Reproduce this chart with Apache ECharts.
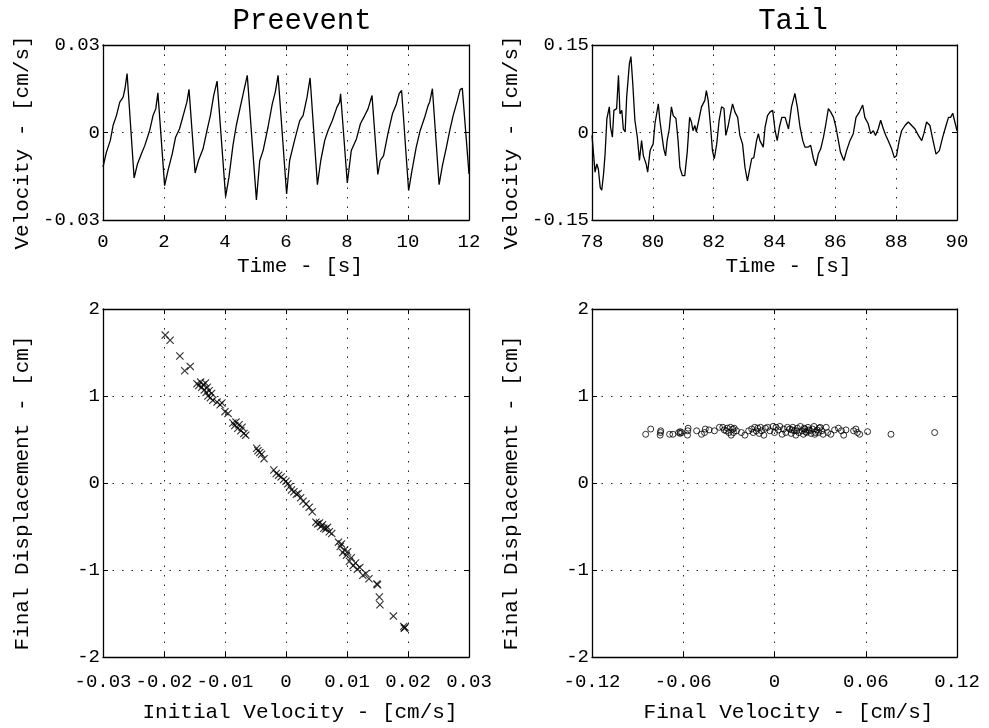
<!DOCTYPE html>
<html>
<head>
<meta charset="utf-8">
<title>Preevent / Tail</title>
<script src="https://cdn.jsdelivr.net/npm/echarts@6/dist/echarts.min.js"></script>
<style>
    html, body { margin: 0; padding: 0; background: #fff; }
    #chart { width: 989px; height: 728px; }
</style>
</head>
<body>
<div id="chart"></div>
<script>
// velocity traces, [time (s), velocity (cm/s)]
let preeventTrace = [
    [0, -0.0119], [0.11, -0.0068], [0.24, -0.0027], [0.33, 0.0024], [0.44, 0.0058], [0.55, 0.0104], [0.66, 0.0121], [0.72, 0.0150], [0.79, 0.0202],
    [1.02, -0.0156], [1.13, -0.0108], [1.26, -0.0073], [1.37, -0.0045], [1.53, 0.0007], [1.64, 0.0058], [1.73, 0.0081], [1.80, 0.0136],
    [2.02, -0.0182], [2.13, -0.0131], [2.27, -0.0073], [2.38, -0.0016], [2.51, 0.0013], [2.66, 0.0070], [2.75, 0.0104], [2.82, 0.0148],
    [3.02, -0.0139], [3.13, -0.0096], [3.28, -0.0056], [3.41, 0.0007], [3.52, 0.0058], [3.63, 0.0127], [3.74, 0.0176],
    [4.02, -0.0220], [4.13, -0.0153], [4.26, -0.0045], [4.37, 0.0024], [4.50, 0.0087], [4.61, 0.0139], [4.73, 0.0196],
    [5.03, -0.0231], [5.14, -0.0096], [5.25, -0.0062], [5.41, 0.0018], [5.55, 0.0098], [5.65, 0.0139], [5.74, 0.0196],
    [6.02, -0.0211], [6.12, -0.0096], [6.28, -0.0027], [6.45, 0.0041], [6.56, 0.0058], [6.69, 0.0121], [6.79, 0.0187],
    [7.03, -0.0179], [7.14, -0.0096], [7.27, -0.0027], [7.38, 0.0007], [7.52, 0.0041], [7.67, 0.0087], [7.76, 0.0104], [7.79, 0.0133],
    [8.01, -0.0173], [8.14, -0.0062], [8.31, -0.0022], [8.44, 0.0030], [8.58, 0.0058], [8.69, 0.0081], [8.82, 0.0127],
    [9.01, -0.0144], [9.09, -0.0096], [9.20, -0.0079], [9.34, -0.0005], [9.49, 0.0064], [9.62, 0.0098], [9.71, 0.0133], [9.79, 0.0144],
    [10.02, -0.0199], [10.13, -0.0131], [10.27, -0.0050], [10.40, 0.0007], [10.55, 0.0053], [10.66, 0.0093], [10.71, 0.0104], [10.80, 0.0150],
    [11.02, -0.0179], [11.13, -0.0113], [11.26, -0.0050], [11.37, 0.0007], [11.48, 0.0058], [11.62, 0.0110], [11.71, 0.0147], [11.78, 0.0152],
    [12.0, -0.0142]
];

let tailTrace = [
    [78.00, -0.005], [78.05, -0.008], [78.10, -0.068], [78.16, -0.054], [78.21, -0.063], [78.27, -0.094], [78.32, -0.099],
    [78.38, -0.071], [78.43, -0.037], [78.49, 0.024], [78.54, 0.021], [78.57, 0.044], [78.61, 0.009], [78.67, -0.008],
    [78.72, 0.038], [78.77, 0.035], [78.81, 0.041], [78.87, 0.098], [78.92, 0.032], [78.98, 0.038], [79.03, 0.006],
    [79.09, 0.001], [79.14, 0.061], [79.23, 0.118], [79.28, 0.130], [79.34, 0.084], [79.41, 0.021], [79.49, -0.008],
    [79.56, -0.048], [79.63, -0.014], [79.69, -0.040], [79.78, -0.054], [79.83, -0.068], [79.91, -0.031], [79.96, -0.025],
    [80.01, -0.020], [80.07, 0.015], [80.12, 0.018], [80.18, 0.049], [80.23, 0.021], [80.29, -0.002], [80.36, -0.028],
    [80.42, -0.040], [80.47, -0.014], [80.54, 0.006], [80.61, 0.044], [80.67, 0.029], [80.76, 0.024], [80.83, -0.014],
    [80.89, -0.060], [80.97, -0.074], [81.05, -0.074], [81.13, -0.034], [81.21, 0.026], [81.27, 0.018], [81.32, 0.003],
    [81.38, 0.012], [81.43, 0.001], [81.51, 0.021], [81.60, 0.044], [81.71, 0.055], [81.76, 0.072], [81.82, 0.055],
    [81.90, 0.009], [81.96, -0.031], [82.02, -0.045], [82.10, -0.020], [82.18, 0.021], [82.26, 0.044], [82.34, 0.041],
    [82.40, -0.005], [82.48, 0.012], [82.53, 0.026], [82.62, 0.049], [82.70, 0.035], [82.79, 0.026], [82.86, -0.005],
    [82.95, -0.020], [83.03, -0.060], [83.11, -0.083], [83.17, -0.086], [83.25, -0.045], [83.32, -0.043], [83.41, -0.014],
    [83.47, -0.002], [83.52, -0.014], [83.58, -0.013], [83.63, -0.025], [83.69, 0.009], [83.77, 0.029], [83.85, 0.035],
    [83.94, 0.038], [84.02, 0.003], [84.09, -0.014], [84.16, 0.009], [84.24, 0.026], [84.35, 0.026], [84.46, 0.006],
    [84.56, 0.044], [84.67, 0.067], [84.75, 0.044], [84.84, 0.009], [84.93, -0.014], [85.00, -0.025], [85.11, -0.025],
    [85.19, -0.022], [85.28, -0.045], [85.36, -0.057], [85.44, -0.037], [85.52, -0.028], [85.61, -0.008], [85.69, 0.015],
    [85.77, 0.041], [85.85, 0.035], [85.94, 0.026], [86.02, 0.009], [86.10, -0.014], [86.17, -0.034], [86.28, -0.048],
    [86.37, -0.031], [86.48, -0.014], [86.59, -0.002], [86.68, 0.026], [86.79, 0.035], [86.90, 0.047], [86.97, 0.026],
    [87.08, 0.015], [87.16, -0.002], [87.25, 0.003], [87.32, -0.005], [87.41, 0.006], [87.49, 0.021], [87.58, 0.006],
    [87.66, -0.005], [87.74, -0.014], [87.85, -0.028], [87.94, -0.043], [88.01, -0.040], [88.10, -0.014], [88.18, 0.003],
    [88.29, 0.012], [88.40, 0.018], [88.51, 0.012], [88.62, 0.006], [88.73, -0.005], [88.84, -0.014], [88.91, -0.002],
    [89.00, 0.018], [89.11, 0.012], [89.20, -0.011], [89.31, -0.037], [89.42, -0.031], [89.53, -0.008], [89.64, 0.012],
    [89.72, 0.026], [89.79, 0.026], [89.86, 0.033], [89.93, 0.018], [90.00, 0.003]
];

// [initial velocity (cm/s), final displacement (cm)]
let initialPoints = [
    [-0.0198, 1.70], [-0.0190, 1.64], [-0.0174, 1.46], [-0.0166, 1.29], [-0.0157, 1.34],
    [-0.0146, 1.14], [-0.0143, 1.12], [-0.0140, 1.16], [-0.0138, 1.10], [-0.0136, 1.13], [-0.0134, 1.07], [-0.0132, 1.15],
    [-0.0131, 1.04], [-0.0129, 1.10], [-0.0128, 1.00], [-0.0126, 1.06], [-0.0124, 0.98], [-0.0122, 1.03], [-0.0120, 0.95],
    [-0.0113, 0.93], [-0.0108, 0.90], [-0.0105, 0.92], [-0.0100, 0.82], [-0.0095, 0.80],
    [-0.0087, 0.69], [-0.0084, 0.66], [-0.0082, 0.70], [-0.0079, 0.63], [-0.0077, 0.67], [-0.0074, 0.60], [-0.0072, 0.64],
    [-0.0069, 0.57], [-0.0066, 0.55],
    [-0.0048, 0.40], [-0.0046, 0.37], [-0.0043, 0.35], [-0.0040, 0.33], [-0.0036, 0.28],
    [-0.0020, 0.15], [-0.0016, 0.11], [-0.0012, 0.09], [-0.0008, 0.07], [-0.0004, 0.04], [0.0000, 0.02], [0.0003, -0.01],
    [0.0006, -0.04], [0.0009, -0.08], [0.0013, -0.10], [0.0017, -0.13], [0.0020, -0.12], [0.0024, -0.17], [0.0028, -0.21],
    [0.0033, -0.24], [0.0038, -0.28], [0.0043, -0.33],
    [0.0049, -0.45], [0.0052, -0.47], [0.0055, -0.46], [0.0057, -0.50], [0.0060, -0.48], [0.0062, -0.52], [0.0065, -0.53],
    [0.0068, -0.51], [0.0071, -0.56], [0.0075, -0.58],
    [0.0086, -0.68], [0.0089, -0.73], [0.0091, -0.70], [0.0093, -0.80], [0.0096, -0.77], [0.0099, -0.83], [0.0101, -0.79],
    [0.0104, -0.90], [0.0107, -0.86], [0.0110, -0.95], [0.0114, -0.92], [0.0117, -0.99], [0.0121, -0.97], [0.0126, -1.06],
    [0.0131, -1.04], [0.0136, -1.10],
    [0.0149, -1.16], [0.0150, -1.17], [0.0153, -1.31], [0.0154, -1.40], [0.0176, -1.53], [0.0193, -1.65], [0.0195, -1.66],
    [0.0194, -1.67]
];

// [final velocity (cm/s), final displacement (cm)]
let finalPoints = [
    [-0.0847, 0.56], [-0.0814, 0.62], [-0.0752, 0.55], [-0.0750, 0.58], [-0.0748, 0.60], [-0.0690, 0.56], [-0.0668, 0.56],
    [-0.0630, 0.58], [-0.0620, 0.59], [-0.0620, 0.57], [-0.0610, 0.58], [-0.0572, 0.55], [-0.0570, 0.60], [-0.0568, 0.63],
    [-0.0512, 0.60], [-0.0480, 0.56], [-0.0460, 0.58], [-0.0455, 0.62], [-0.0430, 0.61], [-0.0395, 0.60], [-0.0362, 0.64],
    [-0.0340, 0.64], [-0.0330, 0.61], [-0.0318, 0.60], [-0.0310, 0.63], [-0.0300, 0.58], [-0.0290, 0.64], [-0.0285, 0.55],
    [-0.0275, 0.62], [-0.0270, 0.58], [-0.0265, 0.63], [-0.0250, 0.60], [-0.0218, 0.58], [-0.0195, 0.55], [-0.0170, 0.60],
    [-0.0150, 0.62], [-0.0140, 0.58], [-0.0130, 0.64], [-0.0120, 0.60], [-0.0110, 0.63], [-0.0100, 0.57], [-0.0092, 0.64],
    [-0.0085, 0.60], [-0.0070, 0.55], [-0.0060, 0.63], [-0.0045, 0.64], [-0.0030, 0.60], [-0.0010, 0.65], [0.0000, 0.58],
    [0.0010, 0.64], [0.0025, 0.61], [0.0035, 0.65], [0.0050, 0.56], [0.0060, 0.62], [0.0075, 0.58], [0.0085, 0.64],
    [0.0100, 0.62], [0.0110, 0.57], [0.0115, 0.61], [0.0120, 0.64], [0.0130, 0.60], [0.0140, 0.55], [0.0145, 0.60],
    [0.0150, 0.63], [0.0160, 0.58], [0.0170, 0.65], [0.0180, 0.60], [0.0190, 0.56], [0.0195, 0.63], [0.0200, 0.62],
    [0.0205, 0.59], [0.0210, 0.58], [0.0220, 0.64], [0.0225, 0.61], [0.0230, 0.60], [0.0240, 0.57], [0.0250, 0.62],
    [0.0260, 0.65], [0.0265, 0.56], [0.0270, 0.58], [0.0280, 0.61], [0.0290, 0.58], [0.0295, 0.63], [0.0300, 0.64],
    [0.0310, 0.60], [0.0320, 0.56], [0.0340, 0.64], [0.0350, 0.58], [0.0370, 0.56], [0.0395, 0.61], [0.0420, 0.63],
    [0.0440, 0.60], [0.0455, 0.55], [0.0470, 0.61], [0.0520, 0.60], [0.0535, 0.62], [0.0545, 0.58], [0.0560, 0.56],
    [0.0612, 0.59], [0.0766, 0.56], [0.1053, 0.58]
];

let panelTitles = ['Preevent', 'Tail'];

var font = "'Liberation Mono', 'Courier New', monospace";
var dotted = { color: '#222', width: 1, type: [1.5, 8] };

// main (labelled) axis; gap/margin differ between top and bottom rows
function mainAxis(gridIndex, min, max, interval, name, isX, gap, margin) {
    return {
        type: 'value',
        gridIndex: gridIndex,
        min: min, max: max, interval: interval,
        position: isX ? 'bottom' : 'left',
        name: name,
        nameLocation: 'middle',
        nameGap: gap,
        nameTextStyle: {
            fontFamily: font, fontSize: 21, color: '#000',
            padding: isX ? [0, 0, 0, 28] : [0, 20, 0, 0]
        },
        axisLine: { show: true, onZero: false, lineStyle: { color: '#000', width: 1.3 } },
        axisTick: { show: true, inside: true, length: 5, lineStyle: { color: '#000' } },
        axisLabel: { fontFamily: font, fontSize: 19, color: '#000', margin: margin, showMinLabel: true, showMaxLabel: true },
        splitLine: { show: true, lineStyle: dotted }
    };
}

function boxAxis(gridIndex, min, max, interval, isX) {
    return {
        type: 'value',
        gridIndex: gridIndex,
        min: min, max: max, interval: interval,
        position: isX ? 'top' : 'right',
        axisLine: { show: true, onZero: false, lineStyle: { color: '#000', width: 1.3 } },
        axisTick: { show: true, inside: true, length: 5, lineStyle: { color: '#000' } },
        axisLabel: { show: false },
        splitLine: { show: false }
    };
}

var xMark = 'path://M0,1 L1,0 L5,4 L9,0 L10,1 L6,5 L10,9 L9,10 L5,6 L1,10 L0,9 L4,5 Z';
var titleStyle = { fontFamily: font, fontSize: 29, fontWeight: 'normal', color: '#000' };

var chart = echarts.init(document.getElementById('chart'));
var option = {
    backgroundColor: '#fff',
    animation: false,
    title: [
        { text: panelTitles[0], left: 297, top: 2, textAlign: 'center', textStyle: titleStyle },
        { text: panelTitles[1], left: 788, top: 2, textAlign: 'center', textStyle: titleStyle }
    ],
    grid: [
        { left: 103, top: 45, width: 366, height: 175 },
        { left: 592, top: 45, width: 365, height: 175 },
        { left: 103, top: 309, width: 366, height: 348 },
        { left: 592, top: 309, width: 365, height: 348 }
    ],
    xAxis: [
        mainAxis(0, 0, 12, 2, 'Time - [s]', true, 36, 12),
        mainAxis(1, 78, 90, 2, 'Time - [s]', true, 36, 12),
        mainAxis(2, -0.03, 0.03, 0.01, 'Initial Velocity - [cm/s]', true, 45, 15),
        mainAxis(3, -0.12, 0.12, 0.06, 'Final Velocity - [cm/s]', true, 45, 15),
        boxAxis(0, 0, 12, 2, true),
        boxAxis(1, 78, 90, 2, true),
        boxAxis(2, -0.03, 0.03, 0.01, true),
        boxAxis(3, -0.12, 0.12, 0.06, true)
    ],
    yAxis: [
        mainAxis(0, -0.03, 0.03, 0.03, 'Velocity - [cm/s]', false, 70, 3),
        mainAxis(1, -0.15, 0.15, 0.15, 'Velocity - [cm/s]', false, 70, 3),
        mainAxis(2, -2, 2, 1, 'Final Displacement - [cm]', false, 70, 3),
        mainAxis(3, -2, 2, 1, 'Final Displacement - [cm]', false, 70, 3),
        boxAxis(0, -0.03, 0.03, 0.03, false),
        boxAxis(1, -0.15, 0.15, 0.15, false),
        boxAxis(2, -2, 2, 1, false),
        boxAxis(3, -2, 2, 1, false)
    ],
    series: [
        {
            type: 'line', xAxisIndex: 0, yAxisIndex: 0,
            data: preeventTrace, showSymbol: false,
            lineStyle: { color: '#000', width: 1.3 }
        },
        {
            type: 'line', xAxisIndex: 1, yAxisIndex: 1,
            data: tailTrace, showSymbol: false,
            lineStyle: { color: '#000', width: 1.3 }
        },
        {
            type: 'scatter', xAxisIndex: 2, yAxisIndex: 2,
            data: initialPoints, symbol: xMark, symbolSize: 8,
            itemStyle: { color: '#000' }
        },
        {
            type: 'scatter', xAxisIndex: 3, yAxisIndex: 3,
            data: finalPoints, symbol: 'circle', symbolSize: 6,
            itemStyle: { color: 'rgba(0,0,0,0)', borderColor: '#000', borderWidth: 1 }
        }
    ]
};
chart.setOption(option);
</script>
</body>
</html>
